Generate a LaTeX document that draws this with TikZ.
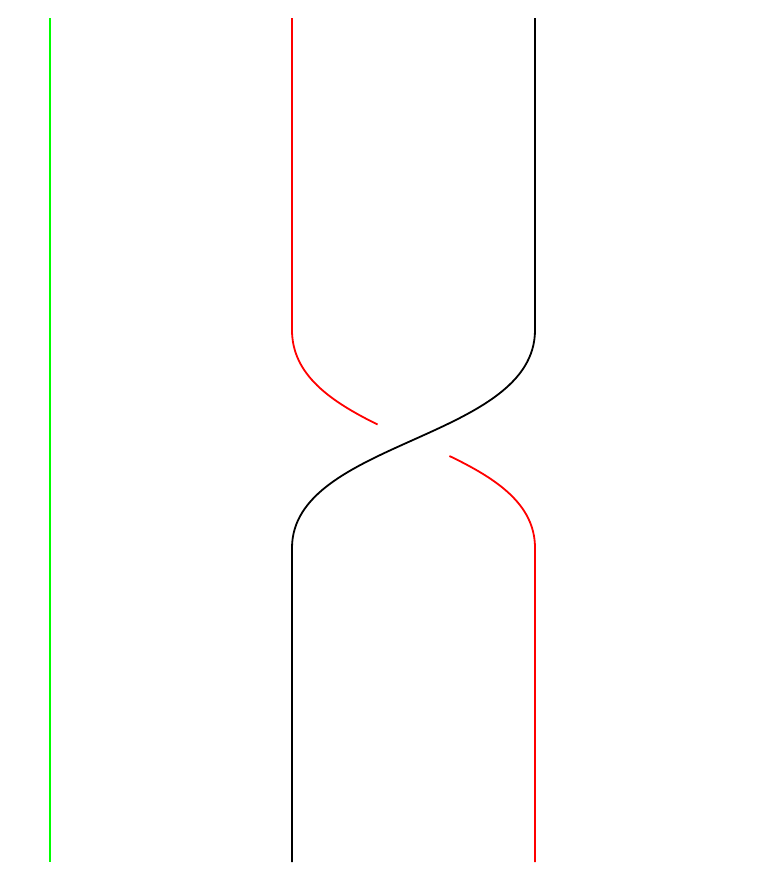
\documentclass[tikz,border=0pt]{standalone}
\begin{document}
\begin{tikzpicture}[x=1pt,y=-1pt,
  strand/.style={line width=1.8pt}]
\useasboundingbox (0,0) rectangle (764,873);
\coordinate (gt) at (50,18);
\coordinate (gb) at (50,862);
\coordinate (rt) at (292,18);
\coordinate (r1) at (292,330);
\coordinate (r2) at (377.54,424.5);
\coordinate (r3) at (449.46,456);
\coordinate (r4) at (535,548);
\coordinate (rb) at (535,862);
\coordinate (bt) at (535,18);
\coordinate (b1) at (535,330);
\coordinate (b2) at (292,548);
\coordinate (bb) at (292,862);
\draw[strand, green] (gt) -- (gb);
\draw[strand, red] (rt) -- (r1) .. controls (292,375) and (330.88,401.5) .. (r2);
\draw[strand, red] (r3) .. controls (496.12,478.5) and (535,504) .. (r4) -- (rb);
\draw[strand, black] (bt) -- (b1) .. controls (535,440) and (292,440) .. (b2) -- (bb);
\end{tikzpicture}
\end{document}
